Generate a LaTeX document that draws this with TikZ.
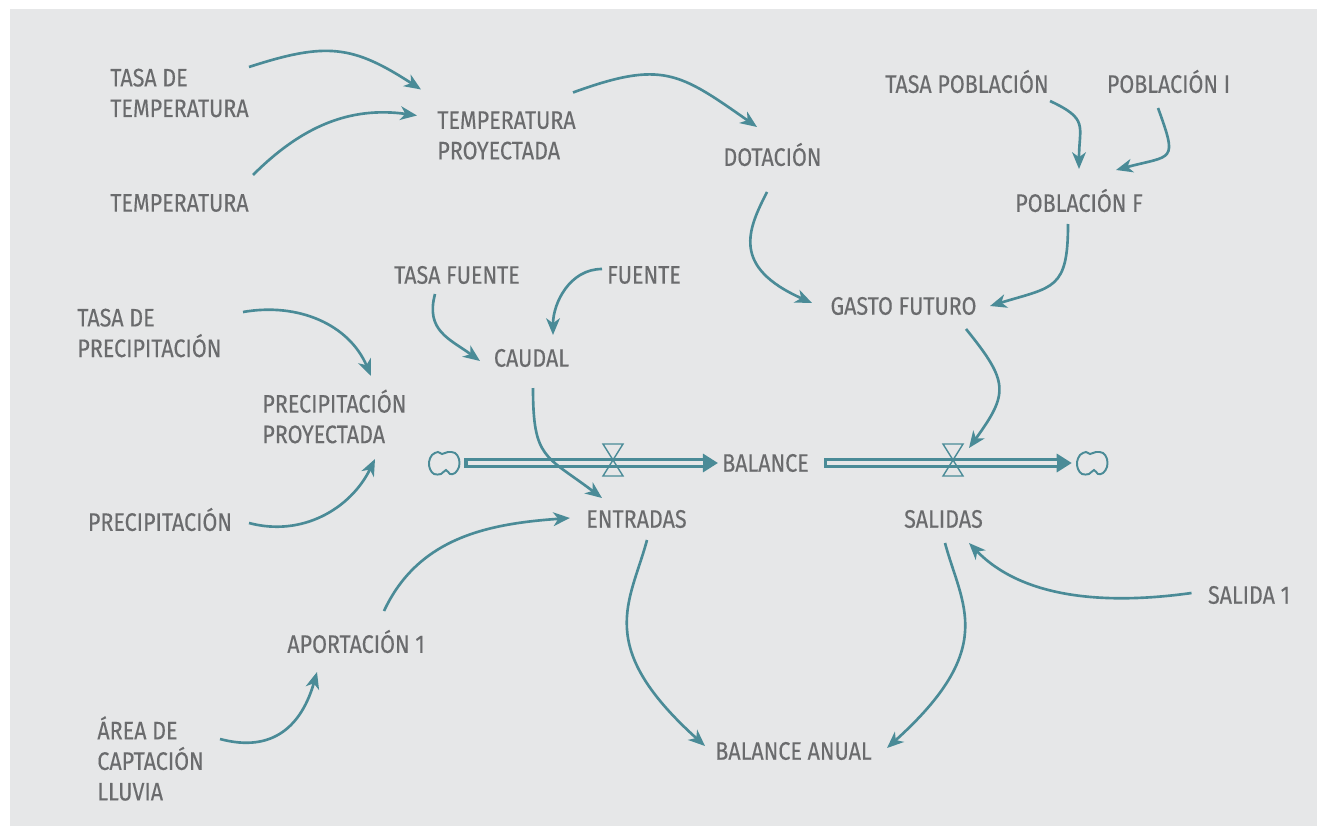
\documentclass[tikz,border=0pt]{standalone}
\usepackage{fontspec}
\setmainfont[FakeStretch=0.85,FakeBold=0.25]{Fira Sans}
\usetikzlibrary{arrows.meta}
\definecolor{fondo}{HTML}{E6E7E8}
\definecolor{azul}{HTML}{4A8B97}
\definecolor{texto}{HTML}{6A6B6D}
\tikzset{
  var/.style={inner sep=0pt, text=texto, font=\fontsize{14.4}{17.4}\selectfont},
  vars/.style={var, align=left, anchor=west},
  link/.style={draw=azul, line width=1.5pt, -{Stealth[length=9.5pt,width=7.8pt,inset=2.8pt]}},
  pipe/.style={draw=fondo, line width=2.2pt, shorten <=1.9pt, shorten >=8.5pt,
    preaction={draw=azul, line width=6pt, shorten <=0pt, shorten >=0pt,
      -{Triangle[length=8.5pt,width=10.8pt,line width=0pt]}}},
  nubo/.style={inner sep=0pt, minimum width=0.8cm, minimum height=0.5cm},
  nube/.pic={\draw[azul, line width=1.1pt] plot[smooth cycle, tension=0.6] coordinates
    {(2,-7) (-3,-11) (-10,-11) (-14,-6) (-15,1) (-12,8) (-6,11) (-2,9) (4,11) (11,10) (15,4) (15,-4) (11,-10) (6,-11)};},
  valvula/.pic={\draw[azul, line width=0.8pt] (-10,16) -- (10,16) -- (-10,-16) -- (10,-16) -- cycle;}
}
\begin{document}
\begin{tikzpicture}[x=0.02cm, y=0.02cm]
  \useasboundingbox (0,0) rectangle (1317,826);
  \fill[fondo] (10,0) rectangle (1317,817);

  \node[vars] (tasatemp) at (110,733) {TASA DE\\TEMPERATURA};
  \node[vars] (temp) at (110,623) {TEMPERATURA};
  \node[vars] (tempproy) at (437,690.5) {TEMPERATURA\\PROYECTADA};
  \node[var] (dotacion) at (772.5,671.5) {DOTACIÓN};
  \node[var] (tasapob) at (967,744.5) {TASA POBLACIÓN};
  \node[var] (pobi) at (1168.5,744.5) {POBLACIÓN I};
  \node[var] (pobf) at (1079,625.5) {POBLACIÓN F};
  \node[var] (gasto) at (903.5,520) {GASTO FUTURO};
  \node[var] (tasafuente) at (457,551) {TASA FUENTE};
  \node[var] (fuente) at (644,551) {FUENTE};
  \node[vars] (tasaprec) at (77,493) {TASA DE\\PRECIPITACIÓN};
  \node[var] (caudal) at (531.5,468) {CAUDAL};
  \node[vars] (precproy) at (262,409.5) {PRECIPITACIÓN\\PROYECTADA};
  \node[var] (balance) at (765.5,363) {BALANCE};
  \node[var] (prec) at (160,306.5) {PRECIPITACIÓN};
  \node[var] (entradas) at (636.5,307) {ENTRADAS};
  \node[var] (salidas) at (943.5,307) {SALIDAS};
  \node[var] (salida1) at (1249,231) {SALIDA 1};
  \node[var] (aportacion) at (356,184.5) {APORTACIÓN 1};
  \node[vars] (area) at (97,67.5) {ÁREA DE\\CAPTACIÓN\\LLUVIA};
  \node[var] (balanual) at (793.5,75) {BALANCE ANUAL};

  % flujos
  \node[nubo] (nubein) at (444,363) {};
  \node[nubo] (nubeout) at (1092,363) {};
  \coordinate (valin) at (613,366);
  \coordinate (valout) at (953,366);
  \draw[pipe] (nubein.east) -- ([xshift=-2.3pt]balance.west);
  \draw[pipe] ([xshift=8.5pt]balance.east) -- (nubeout.west);
  \pic at (nubein) {nube};
  \pic at (nubeout) {nube};
  \pic at (valin) {valvula};
  \pic at (valout) {valvula};

  \draw[link] ([shift={(139,26)}]tasatemp.west) to[out=18,in=147,looseness=1.2] ([shift={(-16,46)}]tempproy.west);
  \draw[link] ([shift={(143,28)}]temp.west) to[out=45,in=172] ([shift={(-20,20)}]tempproy.west);
  \draw[link] ([shift={(136,43)}]tempproy.west) to[out=20,in=145,looseness=1.3] ([shift={(-15.5,27.5)}]dotacion.center);
  \draw[link] ([shift={(-5.5,-37.5)}]dotacion.center) .. controls +(243:42) and +(156:89) .. ([shift={(-91.5,3)}]gasto.center);
  \draw[link] ([shift={(83,-19.5)}]tasapob.center) to[out=-25,in=90,looseness=1.5] ([shift={(0,31.5)}]pobf.center);
  \draw[link] ([shift={(-10.5,-26.5)}]pobi.center) to[out=-70,in=15,looseness=2] ([shift={(37,30.5)}]pobf.center);
  \draw[link] ([shift={(-11,-23.5)}]pobf.center) to[out=-90,in=17,looseness=1.5] ([shift={(86.5,0)}]gasto.center);
  \draw[link] ([shift={(-22,-19)}]tasafuente.center) to[out=255,in=144,looseness=1.2] ([shift={(-51.5,-3)}]caudal.center);
  \draw[link] ([shift={(-42,6)}]fuente.center) to[out=180,in=90] ([shift={(21.5,23)}]caudal.center);
  \draw[link] ([shift={(166,21)}]tasaprec.west) to[out=10,in=113] ([shift={(109,40.5)}]precproy.west);
  \draw[link] ([shift={(89,-3.5)}]prec.center) to[out=-15,in=244] ([shift={(113,-42.5)}]precproy.west);
  \draw[link] ([shift={(1.5,-30)}]caudal.center) to[out=-90,in=143,looseness=1.4] ([shift={(-34.5,21)}]entradas.center);
  \draw[link] ([shift={(62.5,-23)}]gasto.center) .. controls +(-51:68) and +(54:68) .. ([shift={(16,12)}]valout);
  \draw[link] ([shift={(28,30.5)}]aportacion.center) to[out=65,in=184] ([shift={(-66.5,1)}]entradas.center);
  \draw[link] ([shift={(123,19.5)}]area.west) to[out=-15,in=254,looseness=1.2] ([shift={(-39,-30.5)}]aportacion.center);
  \draw[link] ([shift={(10.5,-21)}]entradas.center) .. controls +(255:65) and +(138:150) .. ([shift={(-88.5,5)}]balanual.center);
  \draw[link] ([shift={(1.5,-24)}]salidas.center) .. controls +(-75:65) and +(42:150) .. ([shift={(93.5,3)}]balanual.center);
  \draw[link] ([shift={(-57.5,2)}]salida1.center) to[out=188,in=-46,looseness=0.9] ([shift={(25.5,-24)}]salidas.center);
\end{tikzpicture}
\end{document}
